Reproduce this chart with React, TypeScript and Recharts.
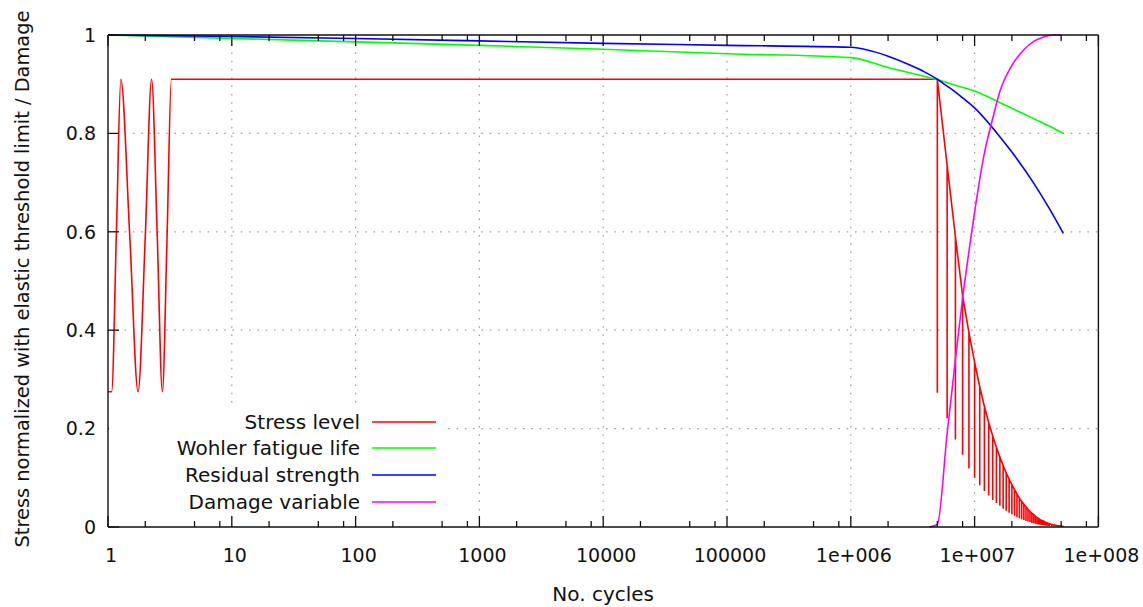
import { LineChart, Line, XAxis, YAxis, ReferenceLine, Legend } from 'recharts';

const xMajorTicks = [1, 10, 100, 1000, 10000, 100000, 1e6, 1e7, 1e8];
const xTickLabels = ['1', '10', '100', '1000', '10000', '100000', '1e+006', '1e+007', '1e+008'];
const xMinorSteps = [2, 5, 8];
const yTicks = [0, 0.2, 0.4, 0.6, 0.8, 1];
const yTickLabels = ['0', '0.2', '0.4', '0.6', '0.8', '1'];
const gridX = [10, 100, 1000, 10000, 100000, 1e6, 1e7];
const gridY = [0.2, 0.4, 0.6, 0.8];

// stress level: first cycles, then constant amplitude
const stressN = [1, 1.07, 1.17, 1.27, 1.5, 1.75, 2, 2.25, 2.5, 2.75, 3, 3.25, 5e6];
const stressV = [0.275, 0.275, 0.6, 0.91, 0.59, 0.275, 0.59, 0.91, 0.59, 0.275, 0.59, 0.91, 0.91];

// stress level after 5e6 cycles: max / min of each sampled cycle
const sawN = [
  5e6, 6e6, 7e6, 8e6, 9e6, 10e6, 11e6, 12e6, 13e6, 14e6, 15e6, 16e6, 17e6, 18e6, 19e6, 20e6,
  21e6, 22e6, 23e6, 24e6, 25e6, 26e6, 27e6, 28e6, 29e6, 30e6, 31e6, 32e6, 33e6, 34e6, 35e6,
  36e6, 37e6, 38e6, 39e6, 40e6, 42e6, 44e6, 46e6, 48e6, 50e6, 52e6,
];
const sawMax = [
  0.91, 0.735, 0.59, 0.47, 0.395, 0.335, 0.285, 0.245, 0.212, 0.185, 0.162, 0.142, 0.125, 0.11, 0.097, 0.086,
  0.076, 0.067, 0.059, 0.052, 0.046, 0.041, 0.036, 0.032, 0.028, 0.025, 0.022, 0.019, 0.017, 0.015, 0.013,
  0.012, 0.01, 0.009, 0.008, 0.007, 0.005, 0.004, 0.003, 0.002, 0.0015, 0.001,
];
const sawMin = [
  0.273, 0.221, 0.178, 0.147, 0.119, 0.1, 0.085, 0.073, 0.064, 0.055, 0.049, 0.043, 0.037, 0.033, 0.029, 0.026,
  0.023, 0.02, 0.018, 0.016, 0.014, 0.012, 0.011, 0.01, 0.008, 0.0075, 0.0066, 0.0057, 0.005, 0.0045, 0.004,
  0.0036, 0.003, 0.0027, 0.0024, 0.0021, 0.0015, 0.0012, 0.0009, 0.0006, 0.0005, 0.0003,
];

const wohlerN = [1, 10, 100, 1000, 1e4, 1e5, 1e6, 2e6, 5e6, 7e6, 1e7, 1.5e7, 2e7, 3e7, 4e7, 5.2e7];
const wohlerV = [1, 0.993, 0.986, 0.979, 0.971, 0.962, 0.954, 0.934, 0.909, 0.898, 0.886, 0.866, 0.851, 0.83, 0.815, 0.8];

const residualN = [1, 10, 100, 1000, 1e4, 1e5, 1e6, 2e6, 3e6, 4e6, 5e6, 6e6, 7e6, 8e6, 1e7, 1.5e7, 2e7, 3e7, 4e7, 5.2e7];
const residualV = [
  1, 0.997, 0.993, 0.988, 0.983, 0.979, 0.975, 0.957, 0.939, 0.924, 0.91, 0.896, 0.884, 0.872, 0.852, 0.802, 0.762,
  0.699, 0.648, 0.597,
];

const damageN = [4.3e6, 5e6, 6e6, 7e6, 8e6, 9e6, 1e7, 1.2e7, 1.4e7, 1.6e7, 2e7, 2.5e7, 3e7, 3.5e7, 4e7, 4.5e7, 5e7];
const damageV = [0, 0.005, 0.19, 0.34, 0.465, 0.56, 0.64, 0.76, 0.83, 0.885, 0.938, 0.97, 0.987, 0.995, 0.999, 1, 1];

const legendLabels = ['Stress level', 'Wohler fatigue life', 'Residual strength', 'Damage variable'];
const legendColors = ['#ff0000', '#00ff00', '#0000ff', '#ff00ff'];

const FONT = '"DejaVu Sans", Verdana, sans-serif';
const AXIS = { stroke: '#111', strokeWidth: 1.4 };

const xTicks = xMajorTicks.flatMap((d, i) => (i < xMajorTicks.length - 1 ? [d, ...xMinorSteps.map((m) => m * d)] : [d]));
const toPoints = (ns: number[], vs: number[]) => ns.map((n, i) => ({ n, v: vs[i] }));
const sawData = sawN.flatMap((n, i) => [
  { n, v: sawMax[i] },
  { n, v: sawMin[i] },
  { n, v: sawMax[i] },
]);

const xLabel = (v: number) => {
  const i = xMajorTicks.indexOf(v);
  return i >= 0 ? xTickLabels[i] : '';
};

function BottomTick(props: any) {
  const { x, y, payload } = props;
  const label = xLabel(payload.value);
  const len = label ? 11 : 6;
  return (
    <g>
      <line x1={x} x2={x} y1={y - 35} y2={y - 35 - len} stroke="#111" strokeWidth={1.3} />
      {label && (
        <text x={x + 3} y={y} textAnchor="middle" fontSize={19} fill="#111" fontFamily={FONT}>
          {label}
        </text>
      )}
    </g>
  );
}

function TopTick(props: any) {
  const { x, y, payload } = props;
  const len = xLabel(payload.value) ? 11 : 6;
  return <line x1={x} x2={x} y1={y} y2={y + len} stroke="#111" strokeWidth={1.3} />;
}

function LeftTick(props: any) {
  const { x, y, payload } = props;
  const i = yTicks.indexOf(payload.value);
  return (
    <g>
      <line x1={x + 12} x2={x + 23} y1={y} y2={y} stroke="#111" strokeWidth={1.3} />
      <text x={x} y={y} dy="0.36em" textAnchor="end" fontSize={19} fill="#111" fontFamily={FONT}>
        {yTickLabels[i]}
      </text>
    </g>
  );
}

function RightTick(props: any) {
  const { x, y } = props;
  return <line x1={x} x2={x - 11} y1={y} y2={y} stroke="#111" strokeWidth={1.3} />;
}

function LegendBox() {
  return (
    <div style={{ position: 'relative', width: 337, height: 106, background: '#fff', fontFamily: FONT, fontSize: 20 }}>
      {legendLabels.map((name, i) => (
        <div key={name} style={{ position: 'absolute', left: 0, top: 13.7 + i * 26.6 - 13, height: 26, width: 337 }}>
          <span
            style={{ position: 'absolute', right: 86, top: 0, lineHeight: '26px', color: '#111', whiteSpace: 'nowrap' }}
          >
            {name}
          </span>
          <svg style={{ position: 'absolute', left: 263, top: 0 }} width={66} height={26}>
            <line x1={0} x2={64} y1={13} y2={13} stroke={legendColors[i]} strokeWidth={1.6} />
          </svg>
        </div>
      ))}
    </div>
  );
}

export default function App() {
  return (
    <div style={{ position: 'absolute', left: 0, top: 0, background: '#fff' }}>
      <LineChart width={1143} height={607} margin={{ top: 5, right: 14.6, bottom: 20, left: 48 }}>
        <XAxis
          xAxisId="x"
          dataKey="n"
          type="number"
          scale="log"
          domain={[1, 1e8]}
          allowDataOverflow
          ticks={xTicks}
          interval={0}
          height={60}
          tickSize={0}
          tickMargin={35}
          tickLine={false}
          axisLine={AXIS}
          tick={(p: any) => <BottomTick {...p} />}
          label={(p: any) => {
            const vb = p.viewBox || { x: 108, y: 527, width: 990, height: 60 };
            return (
              <text x={vb.x + vb.width / 2} y={vb.y + 74} textAnchor="middle" fontSize={20} fill="#111" fontFamily={FONT}>
                No. cycles
              </text>
            );
          }}
        />
        <XAxis
          xAxisId="top"
          orientation="top"
          dataKey="n"
          type="number"
          scale="log"
          domain={[1, 1e8]}
          allowDataOverflow
          ticks={xTicks}
          interval={0}
          height={30}
          tickSize={0}
          tickMargin={0}
          tickLine={false}
          axisLine={AXIS}
          tick={(p: any) => <TopTick {...p} />}
        />
        <YAxis
          yAxisId="y"
          type="number"
          domain={[0, 1]}
          ticks={yTicks}
          interval={0}
          width={60}
          tickSize={0}
          tickMargin={12}
          tickLine={false}
          axisLine={AXIS}
          tick={(p: any) => <LeftTick {...p} />}
          label={(p: any) => {
            const vb = p.viewBox || { x: 48, y: 35, width: 60, height: 492 };
            const cx = vb.x - 26;
            const cy = vb.y + vb.height / 2 - 2;
            return (
              <text
                x={cx}
                y={cy}
                transform={`rotate(-90 ${cx} ${cy})`}
                textAnchor="middle"
                dominantBaseline="central"
                fontSize={19.4}
                fill="#111"
                fontFamily={FONT}
              >
                Stress normalized with elastic threshold limit / Damage
              </text>
            );
          }}
        />
        <YAxis
          yAxisId="yr"
          orientation="right"
          type="number"
          domain={[0, 1]}
          ticks={yTicks}
          interval={0}
          width={30}
          tickSize={0}
          tickMargin={0}
          tickLine={false}
          axisLine={AXIS}
          tick={(p: any) => <RightTick {...p} />}
        />
        {gridX.map((v) => (
          <ReferenceLine
            key={'gx' + v}
            xAxisId="x"
            yAxisId="y"
            x={v}
            stroke="#999"
            strokeWidth={1.2}
            strokeDasharray="1.5 6.8"
          />
        ))}
        {gridY.map((v) => (
          <ReferenceLine
            key={'gy' + v}
            xAxisId="x"
            yAxisId="y"
            y={v}
            stroke="#999"
            strokeWidth={1.2}
            strokeDasharray="1.5 6.8"
          />
        ))}
        <Line
          xAxisId="x"
          yAxisId="y"
          data={toPoints(stressN, stressV)}
          dataKey="v"
          name="Stress level"
          type="monotone"
          stroke="#ff0000"
          strokeWidth={1.6}
          dot={false}
          isAnimationActive={false}
        />
        <Line
          xAxisId="x"
          yAxisId="y"
          data={sawData}
          dataKey="v"
          name="Stress level (cycles)"
          legendType="none"
          type="linear"
          stroke="#ff0000"
          strokeWidth={1.6}
          dot={false}
          isAnimationActive={false}
        />
        <Line
          xAxisId="x"
          yAxisId="y"
          data={toPoints(wohlerN, wohlerV)}
          dataKey="v"
          name="Wohler fatigue life"
          type="monotone"
          stroke="#00ff00"
          strokeWidth={1.6}
          dot={false}
          isAnimationActive={false}
        />
        <Line
          xAxisId="x"
          yAxisId="y"
          data={toPoints(residualN, residualV)}
          dataKey="v"
          name="Residual strength"
          type="monotone"
          stroke="#0000ff"
          strokeWidth={1.6}
          dot={false}
          isAnimationActive={false}
        />
        <Line
          xAxisId="x"
          yAxisId="y"
          data={toPoints(damageN, damageV)}
          dataKey="v"
          name="Damage variable"
          type="monotone"
          stroke="#ff00ff"
          strokeWidth={1.6}
          dot={false}
          isAnimationActive={false}
        />
        <Legend
          layout="horizontal"
          verticalAlign="middle"
          align="center"
          content={() => <LegendBox />}
          wrapperStyle={{ left: 109, top: 408, width: 337, height: 106 }}
        />
      </LineChart>
    </div>
  );
}
